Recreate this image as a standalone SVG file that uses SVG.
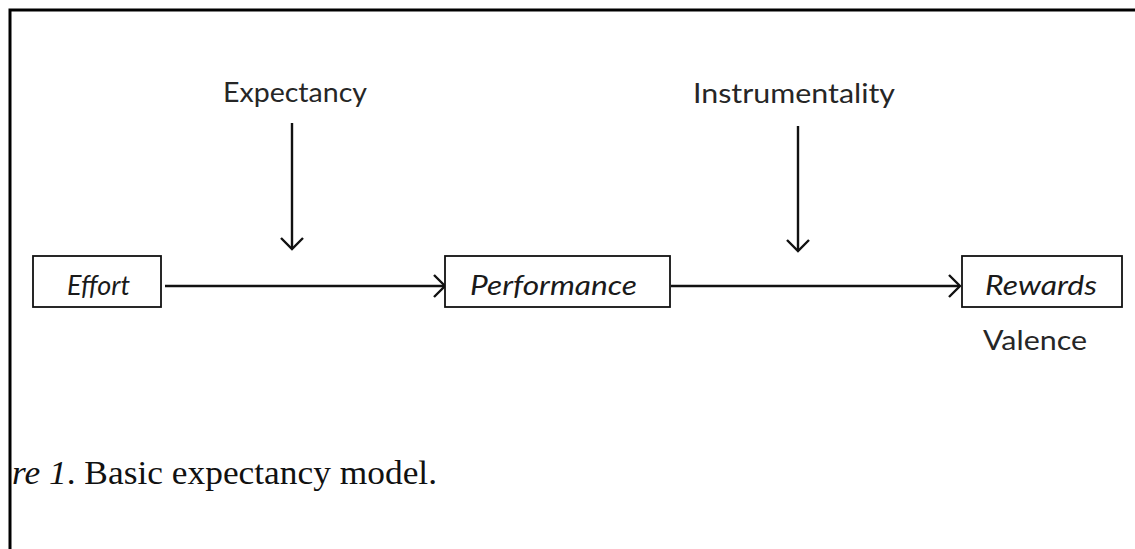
<svg xmlns="http://www.w3.org/2000/svg" width="1135" height="549" viewBox="0 0 1135 549">
  <style>
    .frame { fill: none; stroke: #000; stroke-width: 3; }
    .box { fill: #fff; stroke: #111; stroke-width: 1.8; }
    .conn { fill: none; stroke: #111; stroke-width: 2.4; }
    .node { font-family: Lato, "Open Sans", sans-serif; font-style: italic; font-size: 27px; fill: #1a1a1a; }
    .label { font-family: Lato, "Open Sans", sans-serif; font-size: 27px; fill: #262626; }
    .caption { font-family: "Liberation Serif", "Times New Roman", serif; font-size: 34px; fill: #111; }
  </style>
  <defs>
    <marker id="open-arrow" markerWidth="16" markerHeight="26" refX="13" refY="13" orient="auto" markerUnits="userSpaceOnUse">
      <path d="M2,2 L13,13 L2,24" fill="none" stroke="#111" stroke-width="2.4"/>
    </marker>
  </defs>
  <rect x="0" y="0" width="1135" height="549" fill="#fff"/>
  <!-- page frame: top and left edges -->
  <path class="frame" d="M10,549 L10,10 L1135,10"/>

  <g id="connectors">
    <line class="conn" x1="165" y1="286" x2="445" y2="286" marker-end="url(#open-arrow)"/>
    <line class="conn" x1="671" y1="286" x2="960" y2="286" marker-end="url(#open-arrow)"/>
    <line class="conn" x1="292" y1="123" x2="292" y2="249" marker-end="url(#open-arrow)"/>
    <line class="conn" x1="798" y1="126" x2="798" y2="251" marker-end="url(#open-arrow)"/>
  </g>

  <g id="effort">
    <rect class="box" x="33" y="256" width="128" height="51"/>
    <text class="node" x="67" y="295" textLength="63" lengthAdjust="spacingAndGlyphs">Effort</text>
  </g>
  <g id="performance">
    <rect class="box" x="445" y="256" width="225" height="51"/>
    <text class="node" x="470" y="295" textLength="167" lengthAdjust="spacingAndGlyphs">Performance</text>
  </g>
  <g id="rewards">
    <rect class="box" x="962" y="256" width="160" height="51"/>
    <text class="node" x="985" y="295" textLength="112" lengthAdjust="spacingAndGlyphs">Rewards</text>
  </g>

  <g id="expectancy">
    <text class="label" x="223" y="102" textLength="144" lengthAdjust="spacingAndGlyphs">Expectancy</text>
  </g>
  <g id="instrumentality">
    <text class="label" x="693" y="103" textLength="202" lengthAdjust="spacingAndGlyphs">Instrumentality</text>
  </g>
  <g id="valence">
    <text class="label" x="983" y="350" textLength="104" lengthAdjust="spacingAndGlyphs">Valence</text>
  </g>

  <text class="caption" x="12" y="484" textLength="425" lengthAdjust="spacingAndGlyphs"><tspan font-style="italic">re 1</tspan>. Basic expectancy model.</text>
</svg>
